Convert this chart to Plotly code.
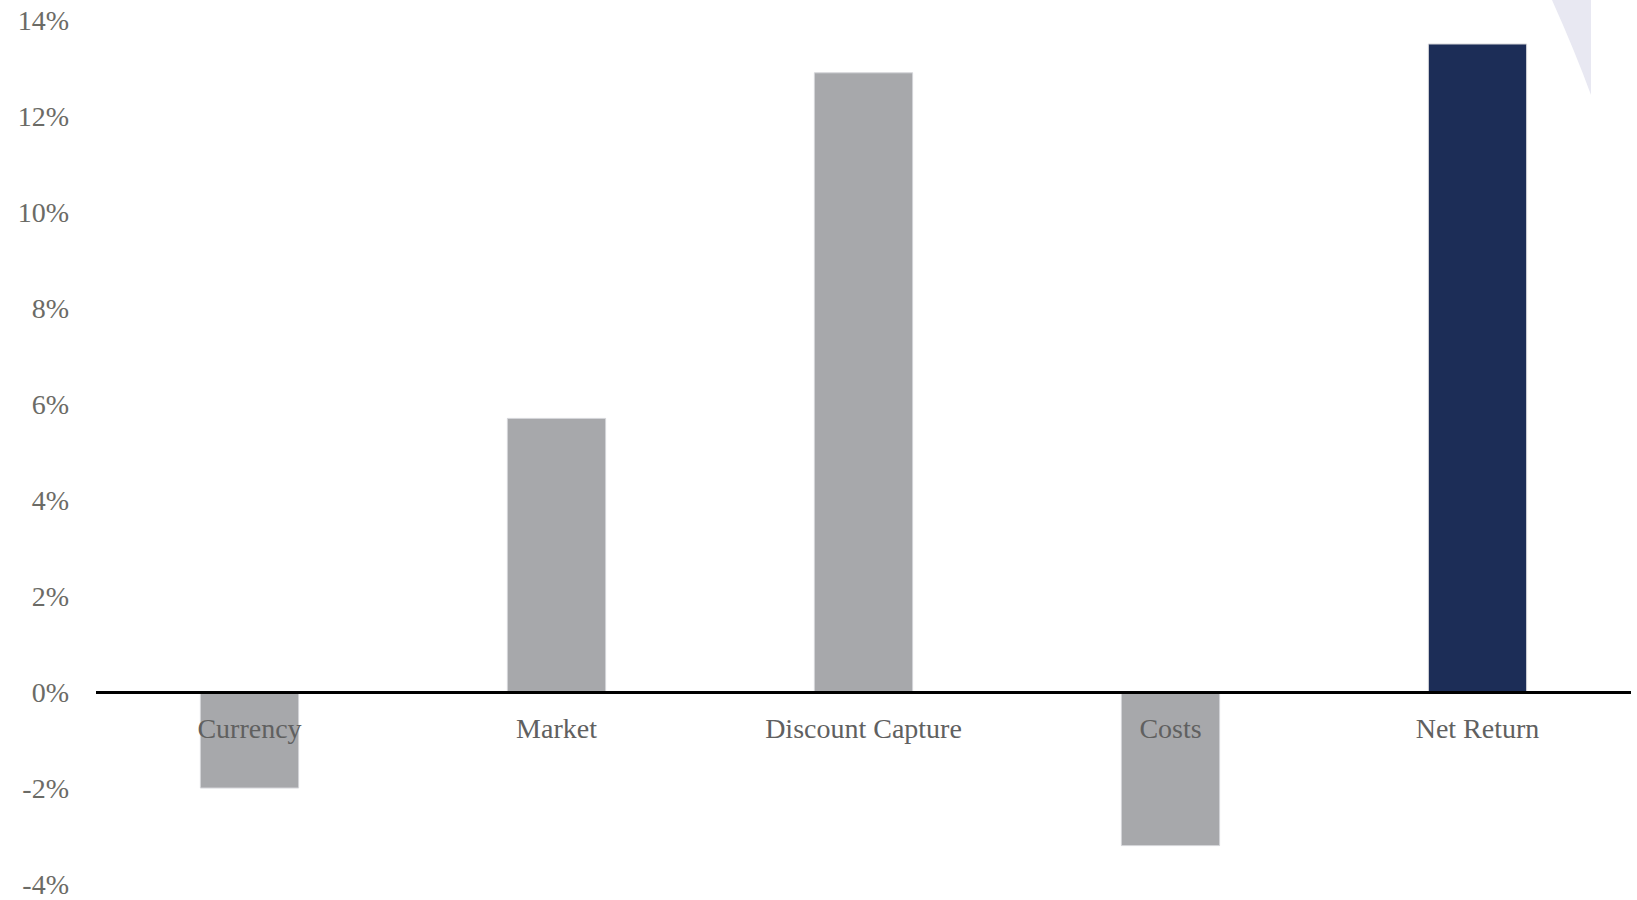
import plotly.graph_objects as go

# Return attribution components (percent)
categories = ["Currency", "Market", "Discount Capture", "Costs", "Net Return"]
values = [-2.0, 5.7, 12.9, -3.2, 13.5]
bar_colors = ["#a7a8ab", "#a7a8ab", "#a7a8ab", "#a7a8ab", "#1c2d57"]
y_ticks = [-4, -2, 0, 2, 4, 6, 8, 10, 12, 14]

W, H = 1637, 900
M_L, M_R, M_T, M_B = 96, 6, 20, 16
Y_MIN, Y_MAX = -4, 14

fig = go.Figure(
    go.Bar(
        x=categories,
        y=values,
        width=0.32,
        marker=dict(color=bar_colors, line=dict(color="#d4d5d9", width=1)),
        hoverinfo="x+y",
    )
)

# Faint logo fragment in the top-right corner (pixel -> paper coordinates)
pw, ph = W - M_L - M_R, H - M_T - M_B


def px(x):
    return (x - M_L) / pw


def py(y):
    return (H - M_B - y) / ph


logo_path = (
    f"M {px(1552)} {py(0)} "
    f"Q {px(1575.5)} {py(52.5)} {px(1591)} {py(95)} "
    f"L {px(1591)} {py(0)} Z"
)
fig.add_shape(
    type="path",
    path=logo_path,
    xref="paper",
    yref="paper",
    fillcolor="#e8e8f2",
    line=dict(width=0),
    layer="below",
)

fig.update_layout(
    width=W,
    height=H,
    margin=dict(l=M_L, r=M_R, t=M_T, b=M_B, autoexpand=False),
    paper_bgcolor="white",
    plot_bgcolor="white",
    showlegend=False,
    bargap=0.68,
    font=dict(family="Liberation Serif, Times New Roman, serif"),
    xaxis=dict(
        anchor="free",
        position=(0 - Y_MIN) / (Y_MAX - Y_MIN),
        showline=True,
        linecolor="black",
        linewidth=2.5,
        showgrid=False,
        zeroline=False,
        ticks="",
        automargin=False,
        ticklabelstandoff=11,
        tickfont=dict(size=28, color="#606060"),
    ),
    yaxis=dict(
        range=[Y_MIN, Y_MAX],
        tickvals=y_ticks,
        ticktext=[f"{v}%" for v in y_ticks],
        showgrid=False,
        zeroline=False,
        showline=False,
        ticks="",
        automargin=False,
        ticklabelstandoff=26,
        ticklabeloverflow="allow",
        tickfont=dict(size=28, color="#6b6b66"),
    ),
)

fig.write_html("out.html")
